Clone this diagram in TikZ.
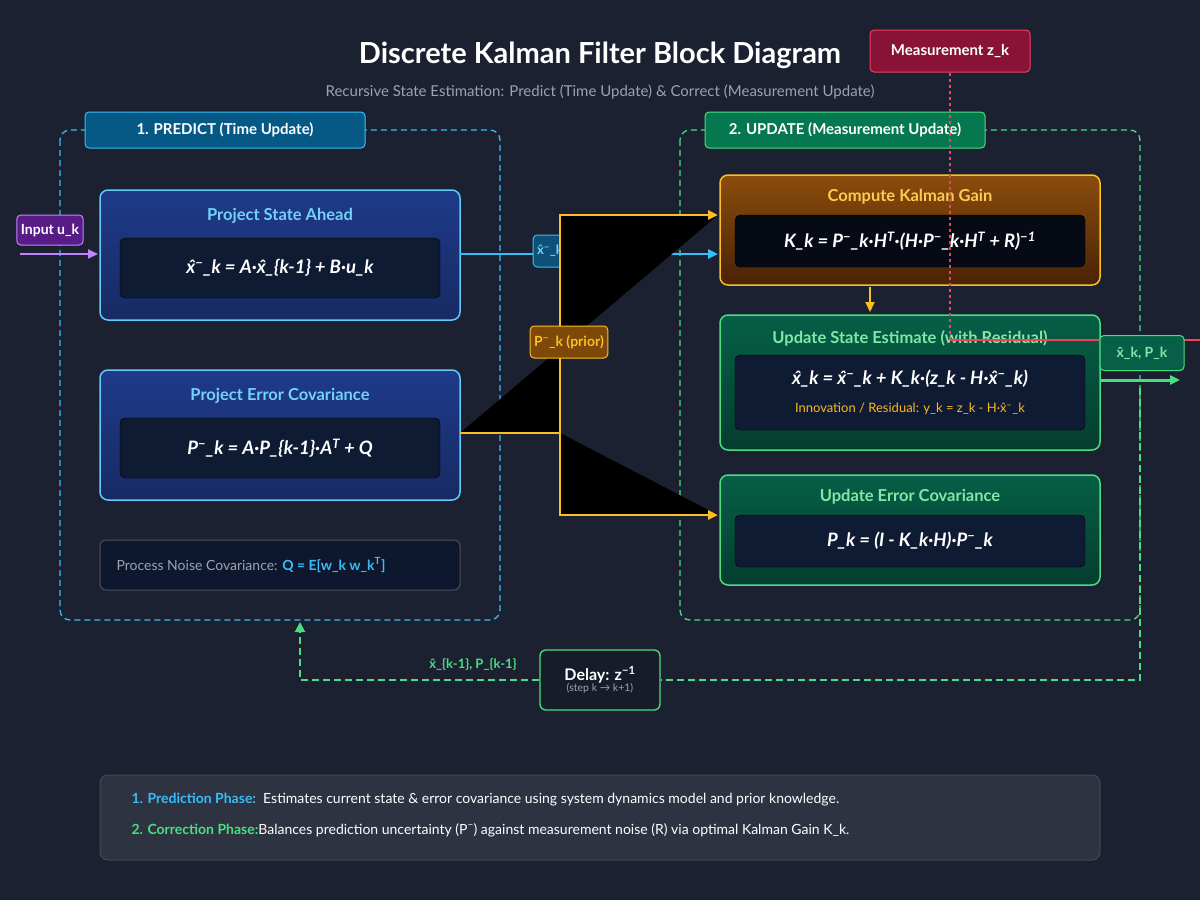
\documentclass[tikz,border=0pt]{standalone}
\usepackage{fontspec}
\setmainfont{Lato}
\usetikzlibrary{arrows.meta}
\definecolor{bg}{HTML}{1B2131}
\definecolor{skyb}{HTML}{38BDF8}
\definecolor{grn}{HTML}{4ADE80}
\definecolor{ylw}{HTML}{FBBF24}
\definecolor{inner}{HTML}{0F1A33}
\definecolor{txtg}{HTML}{9CA3AF}
\definecolor{navyT}{HTML}{1E3A8A}
\definecolor{navyB}{HTML}{172A63}
\definecolor{teaT}{HTML}{065F46}
\definecolor{teaB}{HTML}{053D2F}
\definecolor{orT}{HTML}{8A4D0C}
\definecolor{orB}{HTML}{4A2206}
\definecolor{redm}{HTML}{F43F5E}
\definecolor{predtag}{HTML}{075985}
\definecolor{updtag}{HTML}{067850}
\definecolor{violL}{HTML}{C084FC}
\definecolor{violD}{HTML}{581C87}
\definecolor{xtag}{HTML}{0E5078}
\definecolor{ptag}{HTML}{7D4808}
\definecolor{mtag}{HTML}{881337}
\newcommand{\xh}{\^{x}}
\newcommand{\sm}{\textsuperscript{−}}
\newcommand{\sT}{\textsuperscript{T}}
\tikzset{
  every node/.style={text=white},
  phase/.style={rounded corners=10pt, line width=1.3pt, dash pattern=on 6pt off 4pt},
  tag/.style={rounded corners=4pt, line width=1pt, inner sep=4pt, font=\bfseries\fontsize{15}{17}\selectfont},
  blk/.style={rounded corners=8pt, line width=1.5pt},
  inbox/.style={rounded corners=5pt, fill=inner},
  ttl/.style={font=\bfseries\fontsize{16.5}{19}\selectfont},
  frm/.style={font=\bfseries\itshape\fontsize{18.5}{21}\selectfont},
  arr/.style={-{Triangle[length=10pt,width=9pt]}, line width=2pt}
}
\begin{document}
\begin{tikzpicture}[x=1pt,y=-1pt]
\fill[bg] (0,0) rectangle (1200,900);
\useasboundingbox (0,0) rectangle (1200,900);
\node (title) at (600,55) {\bfseries\fontsize{29}{32}\selectfont Discrete Kalman Filter Block Diagram};
\node[text=txtg] (sub) at (600,92) {\fontsize{15}{17}\selectfont Recursive State Estimation: Predict (Time Update) \& Correct (Measurement Update)};
% phases
\draw[phase, skyb] (60,130) rectangle (500,620);
\draw[phase, grn] (680,130) rectangle (1140,620);
\node[tag, draw=skyb, fill=predtag, minimum width=280pt, minimum height=36pt] (pl) at (225,130) {1. PREDICT (Time Update)};
\node[tag, draw=grn, fill=updtag, minimum width=280pt, minimum height=36pt] (ul) at (845,130) {2. UPDATE (Measurement Update)};
% predict blocks
\draw[blk, draw=skyb!80!white, top color=navyT, bottom color=navyB] (100,190) rectangle (460,320);
\node[ttl, text=skyb!70!white] (psa) at (280,216) {Project State Ahead};
\draw[inbox] (120,238) rectangle (440,298);
\node[frm] (f1) at (280,268) {\xh\sm\_k = A·\xh\_\{k-1\} + B·u\_k};
\coordinate (psaE) at (460,254);
\draw[blk, draw=skyb!80!white, top color=navyT, bottom color=navyB] (100,370) rectangle (460,500);
\node[ttl, text=skyb!70!white] (pec) at (280,396) {Project Error Covariance};
\draw[inbox] (120,418) rectangle (440,478);
\node[frm] (f2) at (280,448) {P\sm\_k = A·P\_\{k-1\}·A\sT{} + Q};
\coordinate (pecE) at (460,433);
\draw[rounded corners=6pt, fill=inner!90!black, draw=gray!50!bg, line width=1pt] (100,540) rectangle (460,590);
\node[anchor=west, text=txtg] (pn) at (113,565) {\fontsize{14}{16}\selectfont Process Noise Covariance: \textcolor{skyb}{\bfseries Q = E[w\_k w\_k\sT]}};
% input
\node[tag, draw=violL, fill=violD, font=\bfseries\fontsize{14}{16}\selectfont, minimum height=30pt] (inp) at (50,230) {Input u\_k};
\coordinate (inS) at (20,254);
\coordinate (inE) at (98,254);
\draw[arr, violL] (inS) -- (inE);
% update blocks
\draw[blk, draw=ylw, top color=orT, bottom color=orB] (720,175) rectangle (1100,285);
\node[ttl, text=ylw!80!white] (kg) at (910,197) {Compute Kalman Gain};
\draw[inbox, fill=black!60!inner] (735,215) rectangle (1085,267);
\node[frm] (f3) at (910,241) {K\_k = P\sm\_k·H\sT·(H·P\sm\_k·H\sT{} + R)\textsuperscript{−1}};
\coordinate (kgW1) at (718,215);
\coordinate (kgW2) at (718,254);
\coordinate (kgS) at (870,287);
\draw[blk, draw=grn, top color=teaT, bottom color=teaB] (720,315) rectangle (1100,450);
\node[ttl, text=grn!70!white] (us) at (910,338) {Update State Estimate (with Residual)};
\draw[inbox] (735,355) rectangle (1085,430);
\node[frm] (f4) at (910,379) {\xh\_k = \xh\sm\_k + K\_k·(z\_k - H·\xh\sm\_k)};
\node[text=ylw!90!orange] (inn) at (910,409) {\fontsize{13}{15}\selectfont Innovation / Residual: y\_k = z\_k - H·\xh\sm\_k};
\coordinate (usN) at (870,312);
\draw[blk, draw=grn, top color=teaT, bottom color=teaB] (720,475) rectangle (1100,585);
\node[ttl, text=grn!70!white] (ue) at (910,497) {Update Error Covariance};
\draw[inbox] (735,515) rectangle (1085,567);
\node[frm] (f5) at (910,541) {P\_k = (I - K\_k·H)·P\sm\_k};
\coordinate (ueW) at (718,515);
% connectors
\draw[arr, skyb, line width=2.5pt] (psaE) -- (kgW2);
\node[tag, draw=skyb, fill=xtag, text=skyb!70!white, font=\bfseries\fontsize{13}{15}\selectfont, minimum height=32pt] (xl) at (550,251) {\xh\sm\_k};
\coordinate (jn) at (560,433);
\fill[black] (pecE) -- (jn) |- (kgW1) -- cycle;
\fill[black] (jn) |- (ueW) -- cycle;
\draw[arr, ylw, line width=2.5pt] (pecE) -- (jn) |- (kgW1);
\draw[arr, ylw, line width=2.5pt] (jn) |- (ueW);
\node[tag, draw=ylw, fill=ptag, text=ylw, font=\bfseries\fontsize{14}{16}\selectfont, minimum height=32pt] (pl2) at (569,342) {P\sm\_k (prior)};
\draw[arr, ylw] (kgS) -- (usN);
% measurement
\node[tag, draw=redm, fill=mtag, minimum height=42pt, minimum width=160pt] (mz) at (950,51) {Measurement z\_k};
\coordinate (mc) at (950,340);
\coordinate (mr) at (1200,340);
\draw[redm, line width=2.5pt, dash pattern=on 3pt off 3pt] (mz.south) -- (mc);
\draw[redm, line width=2pt] (mc) -- (mr);
% output
\node[tag, draw=grn, fill=teaT, text=grn!70!white, minimum width=84pt, minimum height=35pt, font=\bfseries\fontsize{14}{16}\selectfont] (out) at (1142,353) {\xh\_k, P\_k};
\coordinate (oS) at (1100,380);
\coordinate (oE) at (1180,380);
\draw[arr, grn, line width=3pt] (oS) -- (oE);
% feedback
\node[rounded corners=6pt, draw=grn, line width=1.3pt, fill=bg!85!black, minimum width=120pt, minimum height=60pt, align=center] (dl) at (600,680) {\bfseries\fontsize{16}{18}\selectfont Delay: z\textsuperscript{−1}\\[-1pt]{\color{txtg}\fontsize{10.5}{12}\selectfont (step k → k+1)}};
\coordinate (fb1) at (1140,388);
\coordinate (fb2) at (300,680);
\coordinate (fb3) at (300,622);
\draw[grn, line width=2pt, dash pattern=on 7pt off 4pt] (fb1) |- (dl.east);
\draw[grn, line width=2pt, dash pattern=on 7pt off 4pt, -{Triangle[length=10pt,width=10pt]}] (dl.west) -- (fb2) -- (fb3);
\node[text=grn, font=\bfseries\fontsize{13}{15}\selectfont] (fbl) at (473,664) {\xh\_\{k-1\}, P\_\{k-1\}};
% info
\draw[rounded corners=8pt, fill=bg!92!white, draw=gray!40!bg, line width=1pt] (100,775) rectangle (1100,860);
\node[anchor=west] (i1) at (128,800) {\fontsize{14}{16}\selectfont\textcolor{skyb}{\bfseries 1. Prediction Phase:}\ \ Estimates current state \& error covariance using system dynamics model and prior knowledge.};
\node[anchor=west] (i2) at (128,830) {\fontsize{14}{16}\selectfont\textcolor{grn}{\bfseries 2. Correction Phase:}Balances prediction uncertainty (P\sm) against measurement noise (R) via optimal Kalman Gain K\_k.};
\end{tikzpicture}
\end{document}
